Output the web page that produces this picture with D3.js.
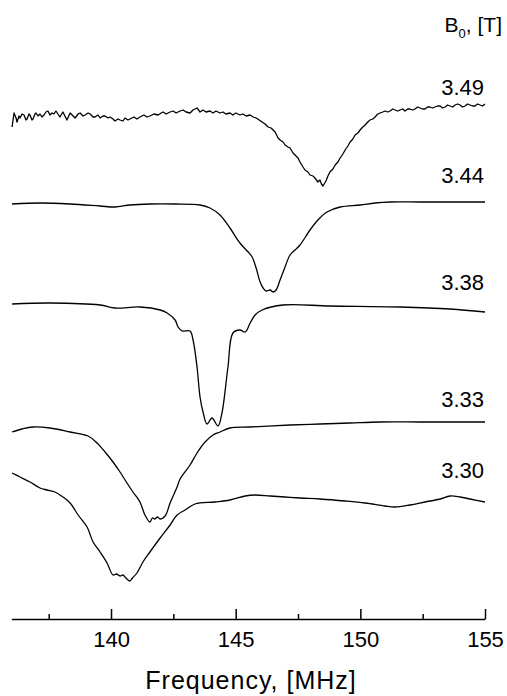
<!DOCTYPE html>
<html>
<head>
<meta charset="utf-8">
<script src="https://cdn.jsdelivr.net/npm/d3@7"></script>
<style>
  body { margin: 0; background: #fff; }
  svg { font-family: "Liberation Sans", Arial, sans-serif; }
  .trace { fill: none; stroke: #000; stroke-width: 1.3; stroke-linejoin: round; }
  .axis path, .axis line { stroke: #000; stroke-width: 1.5; }
  .axis text { font-size: 22px; fill: #000; }
</style>
</head>
<body>
<div class="chart"></div>
<script>
// B0 field values (T), one trace each, top to bottom
var fields = ["3.49", "3.44", "3.38", "3.33", "3.30"];
// vertical offset of each trace baseline (arbitrary units)
var offsets = [507, 415, 313, 195, 119];

// [frequency MHz, signal]
var trace349 = [[136.03,-15],[136.11,-1],[136.19,-6],[136.23,-10],[136.31,-4],[136.35,-6],[136.43,-2],
  [136.51,-3],[136.59,-8],[136.63,-7],[136.71,-2],[136.75,-3],[136.83,-8],[136.87,-7],[136.95,-2],
  [136.99,-1],[137.07,-4],[137.15,-2],[137.23,-5],[137.31,-3],[137.39,0],[137.47,1],[137.55,-3],
  [137.63,-1],[137.71,-2],[137.79,1],[137.87,-2],[137.95,-5],[138.07,0],[138.15,-4],[138.23,-8],
  [138.36,-1],[138.44,-3],[138.56,-6],[138.68,-2],[138.76,-1],[138.88,-4],[138.96,-3],[139.08,-1],
  [139.16,-2],[139.28,-5],[139.36,-5],[139.48,-3],[139.56,-6],[139.68,-4],[139.76,-4],[139.88,-6],
  [139.96,-5],[140.08,-7],[140.16,-9],[140.28,-7],[140.36,-8],[140.48,-9],[140.56,-6],[140.68,-8],
  [140.76,-7],[140.92,-5],[141.04,-7],[141.16,-5],[141.32,-3],[141.44,-5],[141.56,-4],[141.72,-2],
  [141.89,-3],[142.01,-1],[142.09,0],[142.21,-2],[142.37,0],[142.49,1],[142.61,-1],[142.77,1],
  [142.89,2],[143.01,0],[143.17,-1],[143.29,2],[143.45,4],[143.57,0],[143.69,2],[143.81,0],
  [143.97,1],[144.09,-1],[144.21,1],[144.37,-1],[144.49,0],[144.61,-2],[144.77,-1],[144.89,-3],
  [145.01,-1],[145.17,-3],[145.29,-2],[145.42,-4],[145.58,-3],[145.70,-5],[145.82,-6],
  [146.06,-10],[146.18,-12],[146.30,-15],[146.42,-16],[146.58,-20],[146.70,-26],[146.78,-28],
  [146.90,-30],[146.98,-33],[147.10,-35],[147.18,-36],[147.30,-41],[147.38,-43],[147.50,-46],
  [147.58,-50],[147.70,-55],[147.78,-58],[147.90,-60],[147.98,-63],[148.10,-64],[148.18,-66],
  [148.30,-70],[148.38,-68],[148.44,-72],[148.50,-74],[148.62,-69],[148.70,-64],[148.78,-60],
  [148.90,-57],[148.99,-53],[149.10,-50],[149.19,-46],[149.30,-42],[149.39,-38],[149.50,-34],
  [149.59,-30],[149.70,-27],[149.79,-23],[149.90,-21],[149.99,-18],[150.10,-15],[150.19,-13],
  [150.30,-10],[150.39,-8],[150.50,-7],[150.59,-5],[150.70,-2],[150.79,-1],[150.90,0],[150.99,1],
  [151.10,0],[151.19,1],[151.30,3],[151.39,2],[151.50,1],[151.59,2],[151.70,3],[151.79,1],
  [151.90,3],[151.99,3],[152.10,2],[152.19,3],[152.30,5],[152.39,4],[152.50,3],[152.59,3],
  [152.70,5],[152.79,5],[152.90,4],[152.99,5],[153.10,6],[153.20,6],[153.30,4],[153.40,5],
  [153.50,7],[153.60,6],[153.70,5],[153.80,7],[153.90,8],[154.00,7],[154.10,5],[154.20,6],
  [154.30,8],[154.40,7],[154.50,6],[154.60,6],[154.70,8],[154.80,7],[154.90,6],[155.00,8]];

var trace344 = [[136.03,0],[137.15,1],[138.36,0],[139.56,-2],[140.16,-3],[140.76,-1],[141.56,0],
  [142.57,0],[143.57,-1],[143.97,-4],[144.37,-11],[144.77,-24],[145.17,-39],[145.50,-48],
  [145.66,-53],[145.82,-64],[145.98,-78],[146.10,-84],[146.22,-87],[146.38,-86],[146.50,-88],
  [146.62,-86],[146.78,-76],[146.98,-63],[147.18,-51],[147.38,-46],[147.58,-41],[147.98,-26],
  [148.30,-16],[148.66,-8],[149.19,-3],[149.99,-1],[150.59,1],[151.19,2],[152.39,2],
  [153.60,2],[155.00,2]];

var trace338 = [[136.03,2],[137.55,3],[139.56,1],[140.16,-2],[141.16,-1],[141.97,-4],[142.25,-7],
  [142.57,-14],[142.69,-21],[142.85,-25],[143.17,-25],[143.29,-34],[143.45,-61],[143.57,-91],
  [143.69,-106],[143.85,-118],[144.05,-112],[144.29,-120],[144.45,-107],[144.69,-61],
  [144.89,-27],[145.17,-24],[145.38,-26],[145.58,-17],[145.78,-9],[146.06,-4],[146.90,1],
  [148.78,0],[151.59,-1],[153.60,-3],[155.00,-6]];

var trace333 = [[136.03,-8],[136.43,-5],[136.87,-3],[137.55,-4],[138.36,-8],[139.08,-12],
  [139.44,-19],[139.76,-28],[140.08,-38],[140.36,-48],[140.64,-59],[140.88,-68],[141.16,-78],
  [141.36,-91],[141.56,-98],[141.66,-94],[141.76,-95],[141.86,-93],[141.97,-95],[142.17,-92],
  [142.37,-79],[142.65,-63],[142.77,-55],[143.17,-41],[143.45,-29],[143.77,-18],[144.09,-11],
  [144.37,-8],[144.77,-4],[145.58,-3],[147.18,-1],[148.38,0],[149.59,1],[150.79,2],[152.39,2],
  [153.60,2],[155.00,2]];

var trace330 = [[136.03,27],[136.35,23],[136.75,18],[137.15,12],[137.43,10],[137.75,8],[138.07,3],
  [138.36,-3],[138.68,-15],[139.04,-27],[139.28,-42],[139.56,-52],[139.84,-63],[140.08,-75],
  [140.22,-74],[140.36,-76],[140.48,-75],[140.56,-77],[140.68,-80],[140.76,-81],[140.86,-78],
  [141.04,-73],[141.28,-62],[141.56,-52],[141.97,-38],[142.37,-25],[142.65,-15],[142.97,-10],
  [143.37,-4],[144.17,-2],[144.77,0],[145.38,4],[145.78,5],[146.38,4],[146.98,3],[147.58,2],
  [148.38,1],[149.39,-1],[150.19,-3],[150.99,-6],[151.39,-7],[151.99,-5],[152.59,-2],
  [153.20,1],[153.60,4],[154.00,3],[154.40,1],[155.00,-2]];

var traces = [trace349, trace344, trace338, trace333, trace330];

var majorTicks = [140, 145, 150, 155];
var minorTicks = [137.5, 142.5, 147.5, 152.5];

var svgWidth = 507;
var svgHeight = 696;

var svg = d3.select(".chart")
  .append("svg")
  .attr("width", svgWidth)
  .attr("height", svgHeight);

// scales: x in MHz, y in arbitrary units (traces stacked by offset)
var xScale = d3.scaleLinear()
  .domain([136, 155])
  .range([11.3, 485]);

var yScale = d3.scaleLinear()
  .domain([0, 600])
  .range([619, 19]);

var line = d3.line()
  .x(d => xScale(d[0]))
  .y(d => yScale(d[1]));

// draw traces
traces.forEach(function(tr, i) {
  var off = offsets[i];
  svg.append("path")
    .datum(tr.map(d => [d[0], d[1] + off]))
    .attr("class", "trace")
    .attr("d", line.curve(i === 0 ? d3.curveLinear : d3.curveCatmullRom.alpha(0.5)));
});

// field labels
var labelBaselines = [95, 183, 290, 407, 478];
fields.forEach(function(f, i) {
  svg.append("text")
    .attr("x", 484)
    .attr("y", labelBaselines[i])
    .attr("text-anchor", "end")
    .style("font-size", "22px")
    .style("fill", "#000")
    .text(f);
});

// B0 header
var head = svg.append("text")
  .attr("x", 502)
  .attr("y", 32)
  .attr("text-anchor", "end")
  .style("font-size", "21px")
  .style("fill", "#000");
head.append("tspan").text("B");
head.append("tspan").attr("dy", 6).style("font-size", "13px").text("0");
head.append("tspan").attr("dy", -6).text(", [T]");

// axis: major ticks pointing up
var axisMajor = d3.axisBottom(xScale)
  .tickValues(majorTicks)
  .tickSizeInner(-10)
  .tickSizeOuter(0)
  .tickFormat(d3.format("d"));

var gx = svg.append("g")
  .attr("class", "axis")
  .attr("transform", `translate(0, ${yScale(0)})`)
  .call(axisMajor);

gx.selectAll("text")
  .attr("y", 28)
  .attr("dy", null);

// minor ticks
var axisMinor = d3.axisBottom(xScale)
  .tickValues(minorTicks)
  .tickSizeInner(-5)
  .tickSizeOuter(0)
  .tickFormat("");

svg.append("g")
  .attr("class", "axis")
  .attr("transform", `translate(0, ${yScale(0)})`)
  .call(axisMinor)
  .select(".domain").remove();

// axis title
svg.append("text")
  .attr("x", 251)
  .attr("y", 689)
  .attr("text-anchor", "middle")
  .style("font-size", "25px")
  .style("letter-spacing", "1px")
  .style("fill", "#000")
  .text("Frequency, [MHz]");
</script>
</body>
</html>
